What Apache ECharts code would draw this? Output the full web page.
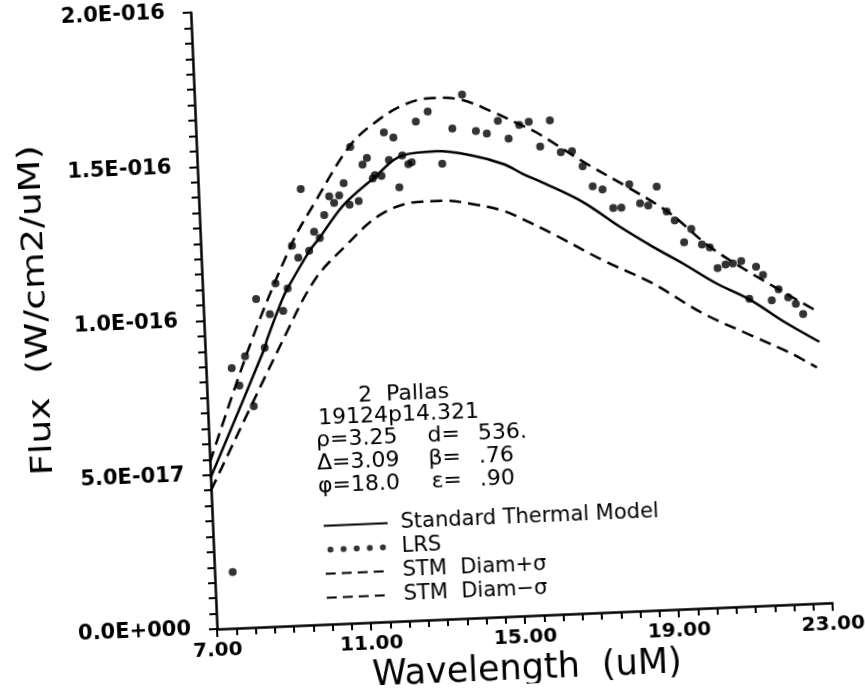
<!DOCTYPE html>
<html><head><meta charset="utf-8">
<script src="https://cdn.jsdelivr.net/npm/echarts@6/dist/echarts.min.js"></script>
<style>
html,body{margin:0;padding:0;background:#fff;overflow:hidden;}
#chart{width:865px;height:697px;transform:rotate(-2.44deg);transform-origin:217px 629px;}
</style></head><body><div id="chart"></div>
<script>
// ---- data ----
const xTickValues = [7, 11, 15, 19, 23];
const yTickValues = [0, 5e-17, 1e-16, 1.5e-16, 2e-16];

const lrsWavelength = [7.47,7.67,7.85,8.03,8.20,8.38,8.55,8.72,8.90,9.07,9.21,9.37,9.52,9.66,9.81,9.96,10.10,10.24,10.39,10.51,10.65,10.78,10.91,10.99,11.15,11.29,11.41,11.54,11.60,11.77,11.88,11.98,12.12,12.22,12.33,12.48,12.57,12.72,13.04,13.36,13.66,13.95,14.27,14.55,14.85,15.11,15.40,15.65,15.92,16.20,16.45,16.74,17.00,17.24,17.49,17.75,17.96,18.19,18.45,18.66,18.90,19.13,19.33,19.55,19.75,20.01,20.21,20.39,20.60,20.79,21.01,21.18,21.39,21.56,21.76,21.95,22.19,22.38,22.56];
const lrsFlux = [1.82e-17,8.43e-17,7.85e-17,8.79e-17,7.16e-17,1.063e-16,9.04e-17,1.012e-16,1.111e-16,1.021e-16,1.093e-16,1.231e-16,1.191e-16,1.413e-16,1.212e-16,1.273e-16,1.252e-16,1.326e-16,1.386e-16,1.364e-16,1.387e-16,1.426e-16,1.356e-16,1.543e-16,1.366e-16,1.484e-16,1.505e-16,1.438e-16,1.448e-16,1.445e-16,1.585e-16,1.495e-16,1.567e-16,1.405e-16,1.508e-16,1.479e-16,1.485e-16,1.616e-16,1.647e-16,1.476e-16,1.588e-16,1.697e-16,1.577e-16,1.567e-16,1.607e-16,1.548e-16,1.591e-16,1.600e-16,1.518e-16,1.601e-16,1.497e-16,1.498e-16,1.448e-16,1.382e-16,1.370e-16,1.309e-16,1.309e-16,1.383e-16,1.320e-16,1.312e-16,1.372e-16,1.290e-16,1.260e-16,1.188e-16,1.230e-16,1.178e-16,1.168e-16,1.100e-16,1.110e-16,1.113e-16,1.119e-16,9.96e-17,1.099e-16,1.071e-16,9.88e-17,1.023e-16,9.95e-17,9.73e-17,9.39e-17];

const stmWavelength = [7.00,8.55,8.62,9.06,9.21,9.82,10.09,10.74,11.55,12.36,13.22,14.09,14.95,15.45,15.96,16.97,17.90,18.73,19.49,20.32,21.18,22.09,22.95];
const stmFlux = [4.9e-17,9.04e-17,9.31e-17,1.059e-16,1.094e-16,1.212e-16,1.252e-16,1.354e-16,1.437e-16,1.509e-16,1.517e-16,1.500e-16,1.466e-16,1.431e-16,1.400e-16,1.332e-16,1.247e-16,1.178e-16,1.120e-16,1.052e-16,9.94e-17,9.14e-17,8.47e-17];

const plusWavelength = [7.00,8.23,9.39,9.96,10.99,11.70,12.43,13.13,13.91,14.67,15.43,15.84,17.10,18.20,19.21,20.20,21.37,22.89];
const plusFlux = [5.4e-17,9.33e-17,1.243e-16,1.358e-16,1.548e-16,1.622e-16,1.672e-16,1.690e-16,1.681e-16,1.640e-16,1.591e-16,1.564e-16,1.456e-16,1.370e-16,1.284e-16,1.171e-16,1.069e-16,9.49e-17];

const minusWavelength = [7.00,9.09,9.94,10.77,11.68,12.64,13.34,14.03,14.89,15.39,16.16,17.42,18.69,19.95,21.22,22.15,22.86];
const minusFlux = [4.5e-17,9.40e-17,1.120e-16,1.224e-16,1.318e-16,1.355e-16,1.356e-16,1.343e-16,1.315e-16,1.285e-16,1.233e-16,1.141e-16,1.059e-16,9.56e-17,8.75e-17,8.17e-17,7.64e-17];

const seriesNames = ['Standard Thermal Model', 'LRS', 'STM  Diam+\u03c3', 'STM  Diam\u2212\u03c3'];
const annotationTitle = ['2  Pallas', '19124p14.321'];
const paramLeft = ['\u03c1=3.25', '\u0394=3.09', '\u03c6=18.0'];
const paramRightName = ['d=', '\u03b2=', '\u03b5='];
const paramRightValue = ['536.', '.76', '.90'];
const xTitle = 'Wavelength  (uM)';
const yTitle = 'Flux  (W/cm2/uM)';

// ---- chart ----
const zip = (a, b) => a.map((v, i) => [v, b[i]]);
const sci = v => {
  const s = Number(v).toExponential(1);
  const parts = s.split('e');
  const sign = parts[1][0] === '-' ? '-' : '+';
  const digits = parts[1].replace(/[+-]/, '');
  return parts[0] + 'E' + sign + digits.padStart(3, '0');
};
const FONT = '"DejaVu Sans", sans-serif';
const axisCommon = {
  type: 'value',
  axisLine: { onZero: false, lineStyle: { color: '#000', width: 2.5 } },
  axisTick: { show: true, inside: false, length: 8, lineStyle: { color: '#000', width: 2 } },
  minorTick: { show: true, length: 7, lineStyle: { color: '#000', width: 2 } },
  splitLine: { show: false },
  minorSplitLine: { show: false }
};
const dotR = 3.2;
const dotsIcon = 'path://' + [0, 1, 2, 3, 4].map(i => {
  const cx = dotR + i * 14;
  return 'M' + (cx - dotR) + ',' + dotR + 'A' + dotR + ',' + dotR + ',0,1,1,' + (cx + dotR) + ',' + dotR + 'A' + dotR + ',' + dotR + ',0,1,1,' + (cx - dotR) + ',' + dotR + 'Z';
}).join('');

const txt = (x, y, text, align, size) => ({
  type: 'text', x: x, y: y,
  style: { text: text, font: (size || 22) + 'px ' + FONT, fill: '#000', textAlign: align || 'left', textVerticalAlign: 'middle' }
});
const rowsY = [445.5, 468.4, 491.4];
const graphics = [
  txt(368, 402, annotationTitle[0]),
  txt(327, 423.5, annotationTitle[1])
];
paramLeft.forEach((t, i) => graphics.push(txt(324, rowsY[i], t)));
paramRightName.forEach((t, i) => graphics.push(txt(468, rowsY[i], t, 'right')));
paramRightValue.forEach((t, i) => graphics.push(txt(486, rowsY[i], t)));
graphics.push({
  type: 'text', x: 51, y: 303, rotation: Math.PI / 2, scaleX: 1.25,
  style: { text: yTitle, font: '30px ' + FONT, fill: '#000', textAlign: 'center', textVerticalAlign: 'middle' }
});

const hiddenSymbol = { color: 'rgba(0,0,0,0)', borderWidth: 0, opacity: 0 };
const chart = echarts.init(document.getElementById('chart'));
chart.setOption({
  animation: false,
  backgroundColor: '#fff',
  grid: { left: 217, right: 32, top: 12, bottom: 68, containLabel: false, outerBoundsMode: 'none' },
  xAxis: Object.assign({}, axisCommon, {
    min: xTickValues[0], max: xTickValues[xTickValues.length - 1], interval: xTickValues[1] - xTickValues[0],
    minorTick: Object.assign({}, axisCommon.minorTick, { splitNumber: 8 }),
    axisLabel: { margin: 12, formatter: v => Number(v).toFixed(2), fontFamily: FONT, fontWeight: 'bold', fontSize: 20, color: '#000' },
    name: xTitle, nameLocation: 'middle', nameGap: 26,
    nameTextStyle: { fontFamily: FONT, fontSize: 35, color: '#000' }
  }),
  yAxis: Object.assign({}, axisCommon, {
    min: yTickValues[0], max: yTickValues[yTickValues.length - 1], interval: yTickValues[1] - yTickValues[0],
    minorTick: Object.assign({}, axisCommon.minorTick, { splitNumber: 10 }),
    axisLabel: { margin: 26, formatter: sci, fontFamily: FONT, fontWeight: 'bold', fontSize: 21, color: '#000' }
  }),
  legend: {
    orient: 'vertical', left: 322, top: 515, itemWidth: 64, itemHeight: 6, itemGap: 3,
    selectedMode: false,
    textStyle: { fontFamily: FONT, fontSize: 21, color: '#000', padding: [0, 0, 0, 8] },
    data: [
      { name: seriesNames[0], itemStyle: hiddenSymbol },
      { name: seriesNames[1], icon: dotsIcon },
      { name: seriesNames[2], itemStyle: hiddenSymbol, lineStyle: { type: [10, 6] } },
      { name: seriesNames[3], itemStyle: hiddenSymbol, lineStyle: { type: [10, 6] } }
    ]
  },
  graphic: graphics,
  series: [
    { name: seriesNames[0], type: 'line', data: zip(stmWavelength, stmFlux), smooth: 0.35, symbol: 'none',
      lineStyle: { color: '#000', width: 2.5 }, itemStyle: { color: '#000' } },
    { name: seriesNames[1], type: 'scatter', data: zip(lrsWavelength, lrsFlux), symbol: 'circle', symbolSize: 8,
      itemStyle: { color: '#000' } },
    { name: seriesNames[2], type: 'line', data: zip(plusWavelength, plusFlux), smooth: 0.35, symbol: 'none',
      lineStyle: { color: '#000', width: 2.5, type: [12, 7] }, itemStyle: { color: '#000' } },
    { name: seriesNames[3], type: 'line', data: zip(minusWavelength, minusFlux), smooth: 0.35, symbol: 'none',
      lineStyle: { color: '#000', width: 2.5, type: [12, 7] }, itemStyle: { color: '#000' } }
  ]
});
</script></body></html>
